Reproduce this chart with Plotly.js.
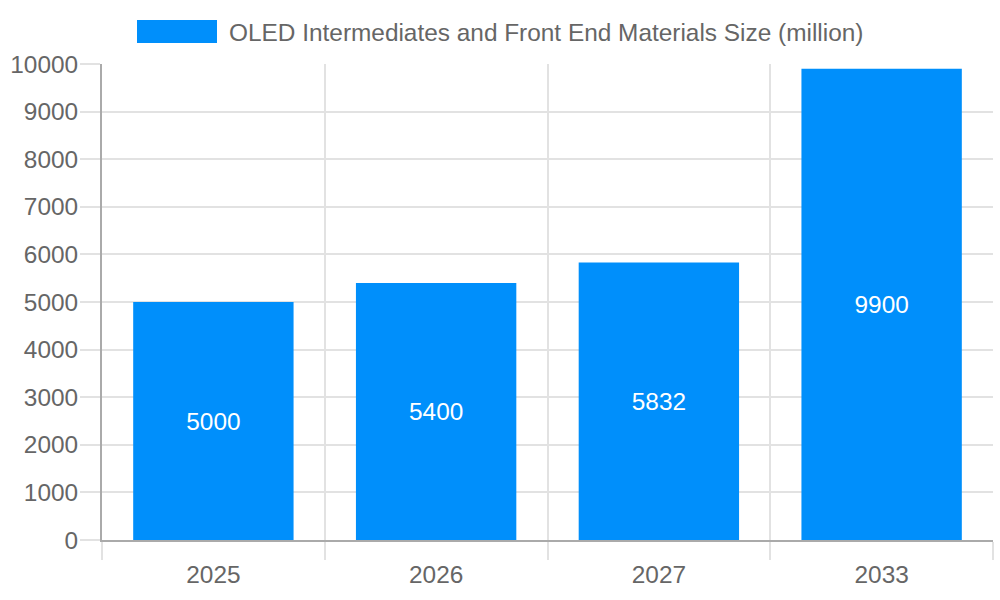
<!DOCTYPE html>
<html>
<head>
<meta charset="utf-8">
<script src="https://cdn.plot.ly/plotly-3.0.1.min.js"></script>
<style>html,body{margin:0;padding:0;background:#fff;}#chart{width:1000px;height:600px;}</style>
</head>
<body>
<div id="chart"></div>
<script>
const categories = ['2025', '2026', '2027', '2033'];
const sizes = [5000, 5400, 5832, 9900];
const seriesName = 'OLED Intermediates and Front End Materials Size (million)';
const yTicks = [0, 1000, 2000, 3000, 4000, 5000, 6000, 7000, 8000, 9000, 10000];

const barColor = '#008FFB';
const textColor = '#666666';
const gridColor = '#e2e2e2';
const font = '"Liberation Sans", Arial, sans-serif';
const fs = 24.4;

const trace = {
  type: 'bar',
  x: categories,
  y: sizes,
  name: seriesName,
  marker: {color: barColor},
  text: sizes.map(String),
  textposition: 'inside',
  insidetextanchor: 'middle',
  textangle: 0,
  textfont: {color: '#ffffff', size: fs, family: font},
  hoverinfo: 'x+y',
  showlegend: false
};

const layout = {
  width: 1000, height: 600,
  margin: {l: 102, r: 7, t: 64, b: 60},
  paper_bgcolor: '#ffffff',
  plot_bgcolor: '#ffffff',
  font: {family: font, color: textColor, size: fs},
  bargap: 0.28,
  xaxis: {
    type: 'category',
    tickson: 'boundaries',
    ticks: 'outside', ticklen: 18, tickcolor: gridColor, tickwidth: 2,
    ticklabelstandoff: 12,
    showgrid: true, gridcolor: gridColor, gridwidth: 2,
    showline: true, linecolor: '#aaaaaa', linewidth: 2,
    tickfont: {size: fs, color: textColor},
    zeroline: false
  },
  yaxis: {
    range: [0, 10000],
    tickvals: yTicks,
    ticktext: yTicks.map(String),
    ticks: 'outside', ticklen: 20, tickcolor: gridColor, tickwidth: 2,
    ticklabelstandoff: -3,
    showgrid: true, gridcolor: gridColor, gridwidth: 2,
    showline: true, linecolor: '#aaaaaa', linewidth: 2,
    zeroline: false,
    tickfont: {size: fs, color: textColor}
  },
  shapes: [{
    type: 'rect', xref: 'paper', yref: 'paper',
    x0: (137 - 102) / 891, x1: (217 - 102) / 891,
    y0: 1 + (64 - 43) / 476, y1: 1 + (64 - 20) / 476,
    fillcolor: barColor, line: {width: 0}
  }],
  annotations: [{
    xref: 'paper', yref: 'paper',
    x: (227 - 102) / 891, y: 1 + (64 - 32) / 476,
    xanchor: 'left', yanchor: 'middle',
    text: seriesName, showarrow: false,
    font: {size: fs, color: textColor}
  }]
};

Plotly.newPlot('chart', [trace], layout, {displayModeBar: false, staticPlot: true});
</script>
</body>
</html>
